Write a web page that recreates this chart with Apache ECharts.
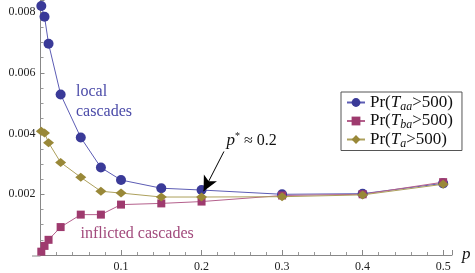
<!DOCTYPE html>
<html><head><meta charset="utf-8">
<script src="https://cdn.jsdelivr.net/npm/echarts@6/dist/echarts.min.js"></script>
<style>html,body{margin:0;padding:0;background:#fff}#c{width:475px;height:273px}</style>
</head><body><div id="c"></div>
<script>
var pValues = [0.001, 0.005, 0.01, 0.025, 0.05, 0.075, 0.1, 0.15, 0.2, 0.3, 0.4, 0.5];
var prTaa = [0.0082, 0.00785, 0.00696, 0.00529, 0.00387, 0.00288, 0.00247, 0.0022, 0.00214, 0.00200, 0.00202, 0.00236];
var prTba = [0.00011, 0.0003, 0.0005, 0.00092, 0.00133, 0.00133, 0.00166, 0.0017, 0.00176, 0.00196, 0.0020, 0.0024];
var prTa  = [0.00408, 0.00402, 0.0037, 0.00305, 0.00256, 0.0021, 0.00204, 0.00191, 0.00191, 0.00192, 0.00198, 0.00233];
var seriesNames = ['Pr(Taa>500)', 'Pr(Tba>500)', 'Pr(Ta>500)'];
var xTicks = [0.1, 0.2, 0.3, 0.4, 0.5];
var yTicks = [0.002, 0.004, 0.006, 0.008];
var arrowFrom = [0.2278, 0.00341];
var arrowTo = [0.2025, 0.0021];

var FONT = 'Liberation Serif';
var cBlue = '#3a3a98', cMag = '#9e3a6e', cOl = '#998838';

function pairs(ys){ return pValues.map(function(x,i){ return [x, ys[i]]; }); }

var chart = echarts.init(document.getElementById('c'), null, {renderer:'canvas'});
var legendRich = {
  n:{fontFamily:FONT, fontSize:17, color:'#111'},
  i:{fontFamily:FONT, fontSize:17, fontStyle:'italic', color:'#111'},
  s:{fontFamily:FONT, fontSize:12, fontStyle:'italic', color:'#111', padding:[8,0,0,0]}
};
var subs = {'Pr(Taa>500)':'aa','Pr(Tba>500)':'ba','Pr(Ta>500)':'a'};
chart.setOption({
  animation:false,
  grid:{left:40.5, right:23, top:0, bottom:17, containLabel:false},
  xAxis:{type:'value', min:0, max:0.511, interval:0.1,
    name:'p', nameLocation:'end', nameGap:10,
    nameTextStyle:{fontFamily:FONT, fontStyle:'italic', fontSize:17, color:'#111', verticalAlign:'middle', padding:[4,0,0,0]},
    axisLine:{lineStyle:{color:'#888', width:1}},
    axisTick:{inside:true, length:5, lineStyle:{color:'#888'}},
    minorTick:{show:true, splitNumber:5, length:3, lineStyle:{color:'#999'}},
    axisLabel:{fontFamily:FONT, fontSize:12, color:'#222', margin:6,
      formatter:function(v){ return xTicks.some(function(t){return Math.abs(t-v)<1e-9;}) ? String(Math.round(v*10)/10) : ''; }},
    splitLine:{show:false}},
  yAxis:{type:'value', min:0, max:0.0084, interval:0.002,
    axisLine:{show:true, lineStyle:{color:'#888', width:1}},
    axisTick:{show:true, inside:true, length:4, lineStyle:{color:'#888'}},
    minorTick:{show:true, splitNumber:4, length:3, lineStyle:{color:'#999'}},
    axisLabel:{fontFamily:FONT, fontSize:12, color:'#222', margin:5,
      formatter:function(v){ return yTicks.some(function(t){return Math.abs(t-v)<1e-9;}) ? v.toFixed(3) : ''; }},
    splitLine:{show:false}},
  legend:{left:341, top:92, orient:'vertical', backgroundColor:'#fff', borderColor:'#555', borderWidth:1,
    padding:[2,9,1,5], itemGap:0, itemWidth:18, itemHeight:11,
    data:seriesNames,
    formatter:function(n){ return '{n|Pr(}{i|T}{s|'+subs[n]+'}{n|>500)}'; },
    textStyle:{rich:legendRich}},
  series:[
    {name:seriesNames[0], type:'line', data:pairs(prTaa), symbol:'circle', symbolSize:10,
      itemStyle:{color:cBlue}, lineStyle:{color:'#5c5cb4', width:1}},
    {name:seriesNames[1], type:'line', data:pairs(prTba), symbol:'rect', symbolSize:8,
      itemStyle:{color:cMag}, lineStyle:{color:'#b4608c', width:1}},
    {name:seriesNames[2], type:'line', data:pairs(prTa), symbol:'diamond', symbolSize:[11,9],
      itemStyle:{color:cOl}, lineStyle:{color:'#ada05c', width:1},
      markLine:{silent:true, symbol:['none','arrow'], symbolSize:[11,15], label:{show:false},
        lineStyle:{color:'#000', width:1, type:'solid'},
        data:[[{coord:arrowFrom},{coord:arrowTo}]]}}
  ],
  graphic:[
    {type:'line', shape:{x1:32, y1:256, x2:40.5, y2:256}, style:{stroke:'#888', lineWidth:1}},
    {type:'text', left:76, top:84, style:{text:'local', font:'16px "Liberation Serif"', fill:'#4a4aa8'}},
    {type:'text', left:76, top:104, style:{text:'cascades', font:'16px "Liberation Serif"', fill:'#4a4aa8'}},
    {type:'text', left:80.5, top:226, style:{text:'inflicted cascades', font:'16px "Liberation Serif"', fill:'#a24a7c'}},
    {type:'text', left:226.5, top:131, style:{text:'{i|p}{s|*}{n| ≈ 0.2}', rich:{
      i:{fontFamily:FONT, fontStyle:'italic', fontSize:17, fill:'#111'},
      s:{fontFamily:FONT, fontSize:10, fill:'#111', padding:[0,0,9,0]},
      n:{fontFamily:FONT, fontSize:16, fill:'#111'}}}}
  ]
});
</script></body></html>
